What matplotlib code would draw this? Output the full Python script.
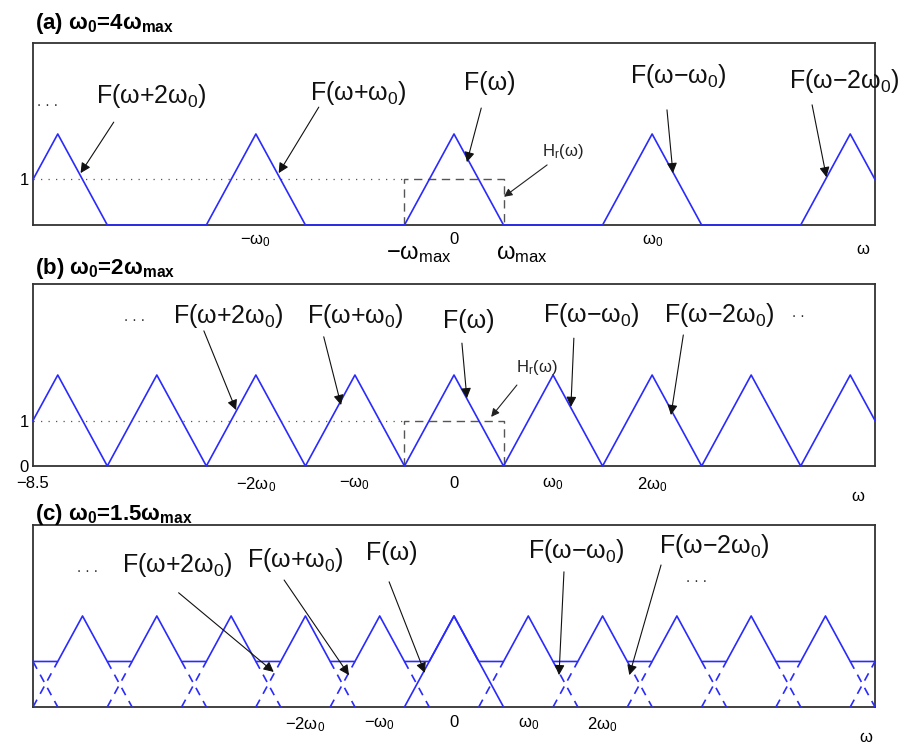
import matplotlib
matplotlib.use("Agg")
import matplotlib.pyplot as plt
import numpy as np

plt.rcParams['font.family'] = ['Liberation Sans', 'DejaVu Sans']
plt.rcParams['mathtext.default'] = 'regular'

# base spectrum F(w), w in units of w_max
tri_w = [-1.0, 0.0, 1.0]
tri_F = [0.0, 2.0, 0.0]
shifts = [-7, -6, -5, -4, -3, -2, -1, 0, 1, 2, 3, 4, 5, 6, 7]

# sampling frequency w0 (in units of w_max) per panel
w0_vals = [4.0, 2.0, 1.5]
titles = [r'(a) ω$_0$=4ω$_{max}$', r'(b) ω$_0$=2ω$_{max}$', r'(c) ω$_0$=1.5ω$_{max}$']
title_y = [1.077, 1.055, 1.027]

xticks = [[-4, 0, 4], [-8.5, -4, -2, 0, 2, 4], [-3, -1.5, 0, 1.5, 3]]
xlabels = [['−ω$_0$', '0', 'ω$_0$'],
           ['−8.5', '−2ω$_0$', '−ω$_0$', '0', 'ω$_0$', '2ω$_0$'],
           ['−2ω$_0$', '−ω$_0$', '0', 'ω$_0$', '2ω$_0$']]
xtick_pad = [5, 7, 6]
yticks = [[1], [0, 1], []]
wlabel_pos = [(0.985, -0.137), (0.98, -0.17), (0.989, -0.17)]

# labels: text, x, y (baseline)
labels_a = [('F(ω+2ω$_0$)', -6.12, 2.68), ('F(ω+ω$_0$)', -1.94, 2.75), ('F(ω)', 0.73, 2.97),
            ('F(ω−ω$_0$)', 4.53, 3.12), ('F(ω−2ω$_0$)', 7.88, 3.01)]
arrows_a = [(-6.87, 2.26, -7.54, 1.14), (-2.73, 2.59, -3.54, 1.14), (0.55, 2.57, 0.26, 1.38),
            (4.30, 2.53, 4.42, 1.14), (7.23, 2.64, 7.52, 1.05)]
labels_b = [('F(ω+2ω$_0$)', -4.55, 3.14), ('F(ω+ω$_0$)', -2.0, 3.14), ('F(ω)', 0.30, 3.03),
            ('F(ω−ω$_0$)', 2.77, 3.16), ('F(ω−2ω$_0$)', 5.35, 3.16)]
arrows_b = [(-5.05, 2.97, -4.40, 1.23), (-2.63, 2.84, -2.28, 1.34), (0.16, 2.70, 0.26, 1.49),
            (2.42, 2.81, 2.36, 1.30), (4.63, 2.88, 4.38, 1.12)]
labels_c = [('F(ω+2ω$_0$)', -5.58, 2.97), ('F(ω+ω$_0$)', -3.21, 3.08), ('F(ω)', -1.25, 3.23),
            ('F(ω−ω$_0$)', 2.48, 3.27), ('F(ω−2ω$_0$)', 5.25, 3.38)]
arrows_c = [(-5.56, 2.51, -3.64, 0.77), (-3.43, 2.79, -2.12, 0.70), (-1.31, 2.75, -0.59, 0.75),
            (2.22, 2.97, 2.12, 0.70), (4.18, 3.12, 3.54, 0.70)]
all_labels = [labels_a, labels_b, labels_c]
all_arrows = [arrows_a, arrows_b, arrows_c]

# H_r(w) label and arrow (panels a, b)
hr_text = [(2.2, 1.52), (1.68, 2.07), None]
hr_arrow = [(1.88, 1.32, 1.01, 0.62), (1.27, 1.78, 0.75, 1.08), None]
hr_w = [-1, -1, 1, 1]
hr_h = [0, 1, 1, 0]

dots = [[(-8.2, 2.7, '. . .')], [(-6.46, 3.27, '. . .'), (6.95, 3.36, '. .')],
        [(-7.41, 3.05, '. . .'), (4.89, 2.84, '. . .')]]

xlim = (-8.5, 8.5)
ylim = (0, 4)
blue = '#2a2aff'

fig = plt.figure(figsize=(9.09, 7.46), dpi=100)
axes_y = [0.6984, 0.3753, 0.0523]
w = np.linspace(xlim[0], xlim[1], 3401)

for i in range(3):
    ax = fig.add_axes([0.0363, axes_y[i], 0.9263, 0.244])
    w0 = w0_vals[i]
    total = np.zeros_like(w)
    for k in shifts:
        total += np.interp(w - k * w0, tri_w, tri_F, left=0, right=0)
    ax.plot(w, total, color=blue, lw=1.2, zorder=3, clip_on=False)

    if i == 2:
        # individual copies below the overlap level, dashed
        ax.plot(tri_w, tri_F, color=blue, lw=1.2, zorder=3)
        lev = 1.0
        for k in shifts:
            if k == 0:
                continue
            c = k * w0
            up = np.interp(lev, tri_F[:2], tri_w[:2])
            dn = np.interp(lev, tri_F[:0:-1], tri_w[:0:-1])
            for xs in ([c + tri_w[0], c + up], [c + dn, c + tri_w[2]]):
                ax.plot(xs, [0, lev] if xs[0] < c else [lev, 0], color=blue, lw=1.2,
                        dashes=(5, 4), zorder=3)
    else:
        ax.plot([xlim[0], -1], [1, 1], color='#555555', lw=0.9, dashes=(1, 5), zorder=1)
        ax.plot(hr_w, hr_h, color='#555555', lw=1.0, dashes=(6, 4), zorder=2)
        tx, ty = hr_text[i]
        ax.text(tx, ty, r'H$_r$(ω)', fontsize=12, ha='center', va='baseline', color='#222222')
        a = hr_arrow[i]
        ax.annotate('', xy=(a[2], a[3]), xytext=(a[0], a[1]),
                    arrowprops=dict(arrowstyle='-|>', color='#222222', lw=0.8,
                                    mutation_scale=12, shrinkA=0, shrinkB=0))

    for txt, tx, ty in all_labels[i]:
        ax.text(tx, ty, txt, fontsize=18, ha='center', va='baseline', color='#111111')
    for a in all_arrows[i]:
        ax.annotate('', xy=(a[2], a[3]), xytext=(a[0], a[1]),
                    arrowprops=dict(arrowstyle='-|>', color='#111111', lw=0.8,
                                    mutation_scale=15, shrinkA=0, shrinkB=0))
    for dx, dy, dt in dots[i]:
        ax.text(dx, dy, dt, fontsize=11, ha='center', va='center', color='#333333')

    ax.set_xlim(*xlim)
    ax.set_ylim(*ylim)
    ax.set_xticks(xticks[i], xlabels[i])
    ax.set_yticks(yticks[i], [str(v) for v in yticks[i]])
    ax.tick_params(axis='x', length=0, labelsize=12, pad=xtick_pad[i])
    ax.tick_params(axis='y', length=0, labelsize=12, pad=3)
    for s in ax.spines.values():
        s.set_color('#333333')
        s.set_linewidth(1.3)

    ax.text(wlabel_pos[i][0], wlabel_pos[i][1], 'ω', transform=ax.transAxes,
            fontsize=12, ha='center', va='center')
    ax.text(0.002, title_y[i], titles[i], transform=ax.transAxes, fontsize=16,
            fontweight='bold', ha='left', va='baseline')

    if i == 0:
        trans = ax.get_xaxis_transform()
        ax.text(-1.38, -0.1, '−ω$_{max}$', transform=trans, fontsize=17, ha='left', va='top')
        ax.text(0.85, -0.1, 'ω$_{max}$', transform=trans, fontsize=17, ha='left', va='top')

fig.savefig('out.png', dpi=100)
